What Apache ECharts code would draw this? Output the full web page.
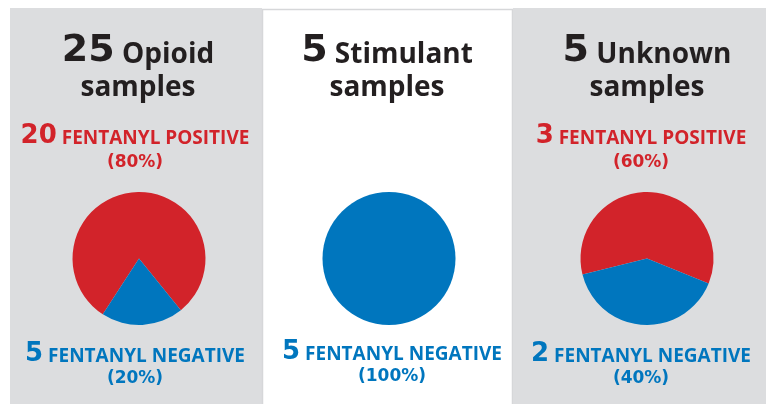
<!DOCTYPE html>
<html>
<head>
<meta charset="utf-8">
<script src="https://cdn.jsdelivr.net/npm/echarts@6/dist/echarts.min.js"></script>
<style>
  html, body { margin: 0; padding: 0; background: #fff; }
  #chart { width: 766px; height: 404px; }
</style>
</head>
<body>
<div id="chart"></div>
<script>
// 数据
const groups = ['Opioid', 'Stimulant', 'Unknown']
const totals = [25, 5, 5]
const positive = [20, 0, 3]
const negative = [5, 5, 2]
const sliceNames = ['FENTANYL POSITIVE', 'FENTANYL NEGATIVE']

const RED = '#d2232a'
const BLUE = '#0076be'
const INK = '#231f20'
const GRAY = '#dcdddf'
const NUM_FONT = '"DejaVu Sans", sans-serif'
const WORD_FONT = '"Open Sans", sans-serif'

// 每个面板的位置
const pieX = [139, 389, 647]
const titleX = [138, 387, 647]
const subX = [135, 392, 641]
const startAngles = [237, 90, 194]
const bottomBase = [362, 360, 362]

const myChart = echarts.init(document.getElementById('chart'))

const pct = (v, t) => Math.round(v / t * 100) + '%'

function countLine (x, y, n, label, color) {
  return {
    type: 'text',
    x: x,
    y: y,
    style: {
      text: '{n|' + n + '}{w| ' + label + '}',
      textAlign: 'center',
      textVerticalAlign: 'bottom',
      fill: color,
      rich: {
        n: { fontFamily: NUM_FONT, fontWeight: 'bold', fontSize: 26, fill: color, verticalAlign: 'bottom', padding: [0, 0, 0, 0] },
        w: { fontFamily: WORD_FONT, fontWeight: 'bold', fontSize: 19, fill: color, verticalAlign: 'bottom', padding: [0, 0, 1, 0] }
      }
    }
  }
}

function pctLine (x, y, text, color) {
  return {
    type: 'text',
    x: x,
    y: y,
    style: {
      text: '(' + text + ')',
      textAlign: 'center',
      textVerticalAlign: 'bottom',
      fill: color,
      font: 'bold 17px ' + NUM_FONT
    }
  }
}

const graphics = [
  { type: 'rect', shape: { x: 10, y: 8, width: 252, height: 400 }, style: { fill: GRAY }, z: -10 },
  { type: 'rect', shape: { x: 262.5, y: 9.5, width: 250, height: 400 }, style: { fill: '#fff', stroke: '#d6d7d9', lineWidth: 1.5 }, z: -10 },
  { type: 'rect', shape: { x: 513, y: 8, width: 260, height: 400 }, style: { fill: GRAY }, z: -10 }
]

const series = []

groups.forEach((g, i) => {
  // 标题
  graphics.push({
    type: 'text',
    x: titleX[i],
    y: 70,
    style: {
      text: '{n|' + totals[i] + '}{w| ' + g + '}',
      textAlign: 'center',
      textVerticalAlign: 'bottom',
      fill: INK,
      rich: {
        n: { fontFamily: NUM_FONT, fontWeight: 'bold', fontSize: 38, fill: INK, verticalAlign: 'bottom' },
        w: { fontFamily: WORD_FONT, fontWeight: 'bold', fontSize: 28, fill: INK, verticalAlign: 'bottom', padding: [0, 0, 1, 0] }
      }
    }
  })
  graphics.push({
    type: 'text',
    x: titleX[i],
    y: 102,
    style: {
      text: 'samples',
      textAlign: 'center',
      textVerticalAlign: 'bottom',
      fill: INK,
      font: 'bold 28px ' + WORD_FONT
    }
  })
  if (positive[i] > 0) {
    graphics.push(countLine(subX[i], 149, positive[i], sliceNames[0], RED))
    graphics.push(pctLine(subX[i], 171, pct(positive[i], totals[i]), RED))
  }
  graphics.push(countLine(subX[i], bottomBase[i] + 5, negative[i], sliceNames[1], BLUE))
  graphics.push(pctLine(subX[i], bottomBase[i] + 25, pct(negative[i], totals[i]), BLUE))

  series.push({
    type: 'pie',
    center: [pieX[i], 258.5],
    radius: [0, 66.5],
    startAngle: startAngles[i],
    silent: true,
    label: { show: false },
    labelLine: { show: false },
    itemStyle: { borderWidth: 0 },
    data: [
      { name: sliceNames[0], value: positive[i], itemStyle: { color: RED } },
      { name: sliceNames[1], value: negative[i], itemStyle: { color: BLUE } }
    ].filter(d => d.value > 0)
  })
})

myChart.setOption({
  animation: false,
  backgroundColor: '#fff',
  graphic: graphics,
  series: series
})
</script>
</body>
</html>
